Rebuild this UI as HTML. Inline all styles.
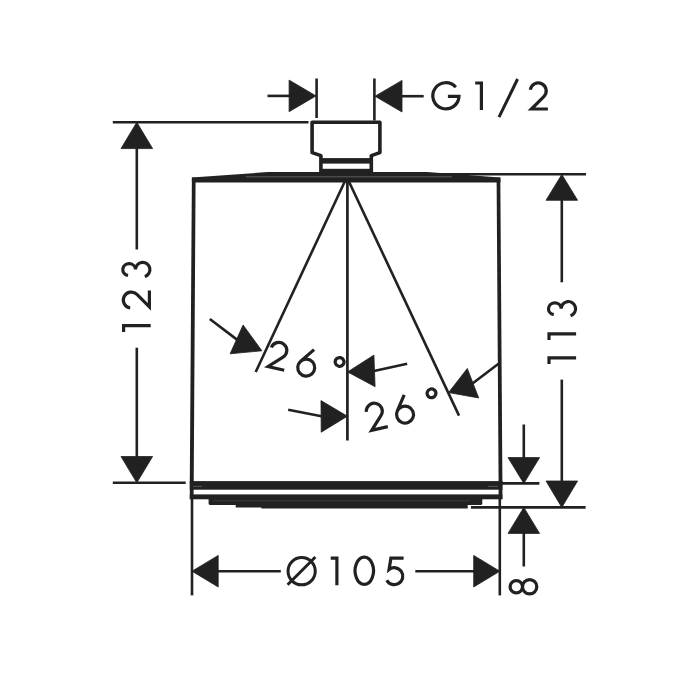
<!DOCTYPE html>
<html><head><meta charset="utf-8"><title>Dimension drawing</title>
<style>
html,body{margin:0;padding:0;background:#fff;}
body{width:700px;height:700px;overflow:hidden;font-family:"Liberation Sans",sans-serif;}
svg{display:block;}
</style></head><body>
<svg width="700" height="700" viewBox="0 0 700 700">
<rect width="700" height="700" fill="#ffffff"/>
<path d="M320.9,174 V155.6 L312.1,152.6 V122.2 H379.9 V152.6 L371.3,155.6 V174" fill="none" stroke="#212121" stroke-width="3.6" stroke-linejoin="round"/>
<rect x="320" y="158.1" width="52.5" height="5.5" fill="#212121"/>
<rect x="320" y="168.8" width="52.5" height="6" fill="#212121"/>
<polygon points="191.9,177.4 268,172.1 427,172.1 500.3,177.4 500.6,182.4 191.9,182.4" fill="#212121"/>
<polygon points="191.9,177.4 195.6,177.4 193.7,482 189.8,482" fill="#212121"/>
<polygon points="496.6,177.4 500.3,177.4 502.4,482 498.6,482" fill="#212121"/>
<rect x="189.8" y="481.1" width="312.6" height="8.6" fill="#212121"/>
<rect x="189.8" y="494.4" width="312.6" height="4.9" fill="#212121"/>
<rect x="189.8" y="481.1" width="3.8" height="18" fill="#212121"/>
<rect x="498.6" y="481.1" width="3.8" height="18" fill="#212121"/>
<path d="M208.6,499 H482.3 V503.5 Q482.3,505.1 480.5,505.1 H210.4 Q208.6,505.1 208.6,503.5 Z" fill="#212121"/>
<path d="M235.7,505 H467.7 V507.4 H235.7 Z" fill="#212121"/>
<path d="M261.4,507 H467.7 V508.6 H261.4 Z" fill="#212121"/>
<line x1="347.4" y1="178" x2="347.4" y2="440.4" stroke="#212121" stroke-width="2.7"/>
<line x1="346.9" y1="177" x2="255.7" y2="372" stroke="#212121" stroke-width="2.6"/>
<line x1="346.8" y1="177" x2="459" y2="415.6" stroke="#212121" stroke-width="2.6"/>
<line x1="246" y1="176.8" x2="452" y2="176.8" stroke="#6e6e6e" stroke-width="0.8"/>
<line x1="213" y1="500.8" x2="470" y2="500.8" stroke="#4a4a4a" stroke-width="0.7"/>
<line x1="193" y1="486.4" x2="202" y2="486.4" stroke="#6a6a6a" stroke-width="0.7"/>
<line x1="488" y1="486.4" x2="498" y2="486.4" stroke="#6a6a6a" stroke-width="0.7"/>
<line x1="316.6" y1="78.5" x2="316.6" y2="118" stroke="#212121" stroke-width="2.6"/>
<line x1="374.4" y1="78.5" x2="374.4" y2="120.5" stroke="#212121" stroke-width="2.6"/>
<line x1="267.5" y1="95.9" x2="290" y2="95.9" stroke="#212121" stroke-width="2.6"/>
<polygon points="316,95.9 289.1,80.1 289.1,111.7" fill="#212121" stroke="#212121" stroke-width="0.8" stroke-linejoin="round"/>
<polygon points="375,96.2 402,112 402,80.4" fill="#212121" stroke="#212121" stroke-width="0.8" stroke-linejoin="round"/>
<line x1="401" y1="96.2" x2="423.7" y2="96.2" stroke="#212121" stroke-width="2.6"/>
<line x1="112.8" y1="122.3" x2="308.5" y2="122.3" stroke="#212121" stroke-width="2.6"/>
<line x1="112.8" y1="482.8" x2="185.7" y2="482.8" stroke="#212121" stroke-width="2.6"/>
<polygon points="136.8,122.3 121,148.6 152.6,148.6" fill="#212121" stroke="#212121" stroke-width="0.8" stroke-linejoin="round"/>
<polygon points="136.8,482.8 152.6,456.5 121,456.5" fill="#212121" stroke="#212121" stroke-width="0.8" stroke-linejoin="round"/>
<line x1="136.8" y1="148" x2="136.8" y2="249.5" stroke="#212121" stroke-width="2.6"/>
<line x1="136.8" y1="347.7" x2="136.8" y2="457" stroke="#212121" stroke-width="2.6"/>
<line x1="430" y1="174.3" x2="586" y2="174.3" stroke="#212121" stroke-width="2.4"/>
<line x1="470.9" y1="507.4" x2="585.6" y2="507.4" stroke="#212121" stroke-width="2.6"/>
<polygon points="561.8,174.4 546,200.3 577.6,200.3" fill="#212121" stroke="#212121" stroke-width="0.8" stroke-linejoin="round"/>
<polygon points="561.8,507.4 577.6,481 546,481" fill="#212121" stroke="#212121" stroke-width="0.8" stroke-linejoin="round"/>
<line x1="561.8" y1="200" x2="561.8" y2="282.3" stroke="#212121" stroke-width="2.6"/>
<line x1="561.8" y1="379.6" x2="561.8" y2="482" stroke="#212121" stroke-width="2.6"/>
<line x1="501" y1="483.4" x2="539.4" y2="483.4" stroke="#212121" stroke-width="2.6"/>
<polygon points="523.8,483.4 539.6,457.6 508,457.6" fill="#212121" stroke="#212121" stroke-width="0.8" stroke-linejoin="round"/>
<line x1="523.8" y1="424.5" x2="523.8" y2="458" stroke="#212121" stroke-width="2.6"/>
<polygon points="523.8,507.4 508,533.4 539.6,533.4" fill="#212121" stroke="#212121" stroke-width="0.8" stroke-linejoin="round"/>
<line x1="523.8" y1="533" x2="523.8" y2="566.5" stroke="#212121" stroke-width="2.6"/>
<line x1="192" y1="499" x2="192" y2="595.4" stroke="#212121" stroke-width="2.6"/>
<line x1="499.8" y1="499" x2="499.8" y2="595.4" stroke="#212121" stroke-width="2.6"/>
<polygon points="192,571.2 218.2,587 218.2,555.4" fill="#212121" stroke="#212121" stroke-width="0.8" stroke-linejoin="round"/>
<polygon points="499.8,571.2 473.7,555.4 473.7,587" fill="#212121" stroke="#212121" stroke-width="0.8" stroke-linejoin="round"/>
<line x1="218" y1="571.3" x2="280.8" y2="571.3" stroke="#212121" stroke-width="2.6"/>
<line x1="415.3" y1="571.3" x2="474" y2="571.3" stroke="#212121" stroke-width="2.6"/>
<line x1="209.8" y1="319" x2="237" y2="339.6" stroke="#212121" stroke-width="2.6"/>
<polygon points="261.9,350.8 243.09,324.99 230.11,353.81" fill="#212121" stroke="#212121" stroke-width="0.8" stroke-linejoin="round"/>
<line x1="407.2" y1="363.7" x2="374" y2="371" stroke="#212121" stroke-width="2.6"/>
<polygon points="347.6,371.9 375.09,386.69 373.91,355.11" fill="#212121" stroke="#212121" stroke-width="0.8" stroke-linejoin="round"/>
<line x1="288.2" y1="409.7" x2="321.5" y2="416.3" stroke="#212121" stroke-width="2.6"/>
<polygon points="347.4,416.2 320.98,400.6 321.22,432.2" fill="#212121" stroke="#212121" stroke-width="0.8" stroke-linejoin="round"/>
<line x1="498.5" y1="363.7" x2="472.5" y2="383.5" stroke="#212121" stroke-width="2.6"/>
<polygon points="448.6,392.6 478.68,397.94 467.32,368.46" fill="#212121" stroke="#212121" stroke-width="0.8" stroke-linejoin="round"/>
<path d="M24.39,6.21 A13.1,13.1 0 1 0 27.59,15.37 H16.5" transform="translate(431.4,81) rotate(0)" fill="none" stroke="#212121" stroke-width="3.2" stroke-linejoin="miter"/>
<path d="M-6.2,1.6 H0 M0,0 V28.7" transform="translate(481.4,81.4) rotate(0)" fill="none" stroke="#212121" stroke-width="3.2" stroke-linejoin="miter"/>
<line x1="517.6" y1="79" x2="499" y2="117.2" stroke="#212121" stroke-width="3"/>
<path d="M1.98,8.39 A8,8 0 1 1 15.55,15.16 L3.1,27.6 H19.6" transform="translate(528.3,81.4) rotate(0)" fill="none" stroke="#212121" stroke-width="3.2" stroke-linejoin="miter"/>
<path d="M-6.2,1.6 H0 M0,0 V28.7" transform="translate(122,325.7) rotate(-90)" fill="none" stroke="#212121" stroke-width="3.2" stroke-linejoin="miter"/>
<path d="M1.98,8.39 A8,8 0 1 1 15.55,15.16 L3.1,27.6 H19.6" transform="translate(121.8,310) rotate(-90)" fill="none" stroke="#212121" stroke-width="3.2" stroke-linejoin="miter"/>
<path d="M2.94,6.45 A5.95,6.35 0 1 1 8.8,13.9 A7.3,7.2 0 1 1 1.82,23.21" transform="translate(121.6,278.4) rotate(-90)" fill="none" stroke="#212121" stroke-width="3.2" stroke-linejoin="miter"/>
<path d="M-6.2,1.6 H0 M0,0 V28.7" transform="translate(547.4,357.9) rotate(-90)" fill="none" stroke="#212121" stroke-width="3.2" stroke-linejoin="miter"/>
<path d="M-6.2,1.6 H0 M0,0 V28.7" transform="translate(547.4,333.9) rotate(-90)" fill="none" stroke="#212121" stroke-width="3.2" stroke-linejoin="miter"/>
<path d="M2.94,6.45 A5.95,6.35 0 1 1 8.8,13.9 A7.3,7.2 0 1 1 1.82,23.21" transform="translate(547.3,317.6) rotate(-90)" fill="none" stroke="#212121" stroke-width="3.2" stroke-linejoin="miter"/>
<path d="M8.65,1.3 A6.2,6.2 0 1 1 8.65,13.7 A6.2,6.2 0 1 1 8.65,1.3 Z M8.65,13.7 A7.15,7.15 0 1 1 8.65,28 A7.15,7.15 0 1 1 8.65,13.7 Z" transform="translate(508.8,595.4) rotate(-90)" fill="none" stroke="#212121" stroke-width="3.2" stroke-linejoin="miter"/>
<circle cx="301.65" cy="571.2" r="13.6" fill="none" stroke="#212121" stroke-width="3"/>
<line x1="315.4" y1="557" x2="287.6" y2="584.7" stroke="#212121" stroke-width="3"/>
<path d="M-6.2,1.6 H0 M0,0 V28.7" transform="translate(336.9,556.6) rotate(0)" fill="none" stroke="#212121" stroke-width="3.2" stroke-linejoin="miter"/>
<path d="M10.7,1 A9.2,13.65 0 1 1 10.69,1 Z" transform="translate(353.6,556.1) rotate(0)" fill="none" stroke="#212121" stroke-width="3.2" stroke-linejoin="miter"/>
<path d="M19.3,1.5 H6.6 L4.77,12.8 A8.5,8.5 0 1 1 2.49,23.49" transform="translate(384.3,556.7) rotate(0)" fill="none" stroke="#212121" stroke-width="3.2" stroke-linejoin="miter"/>
<path d="M1.98,8.39 A8,8 0 1 1 15.55,15.16 L3.1,27.6 H19.6" transform="translate(271.3,338.9) rotate(13)" fill="none" stroke="#212121" stroke-width="3.2" stroke-linejoin="miter"/>
<path d="M13.6,0.6 L3.14,14.88 A8.5,8.5 0 1 0 16.86,24.92 A8.5,8.5 0 1 0 3.14,14.88" transform="translate(300.97,345.96) rotate(13)" fill="none" stroke="#212121" stroke-width="3.2" stroke-linejoin="miter"/>
<path d="M0,-4.4 A4.4,4.4 0 1 1 -0.01,-4.4 Z" transform="translate(339.61,361.96) rotate(13)" fill="none" stroke="#212121" stroke-width="3.2" stroke-linejoin="miter"/>
<path d="M1.98,8.39 A8,8 0 1 1 15.55,15.16 L3.1,27.6 H19.6" transform="translate(362.5,404.2) rotate(-13)" fill="none" stroke="#212121" stroke-width="3.2" stroke-linejoin="miter"/>
<path d="M13.6,0.6 L3.14,14.88 A8.5,8.5 0 1 0 16.86,24.92 A8.5,8.5 0 1 0 3.14,14.88" transform="translate(390.8,397.41) rotate(-13)" fill="none" stroke="#212121" stroke-width="3.2" stroke-linejoin="miter"/>
<path d="M0,-4.4 A4.4,4.4 0 1 1 -0.01,-4.4 Z" transform="translate(431.52,393.3) rotate(-13)" fill="none" stroke="#212121" stroke-width="3.2" stroke-linejoin="miter"/>
</svg>
</body></html>
